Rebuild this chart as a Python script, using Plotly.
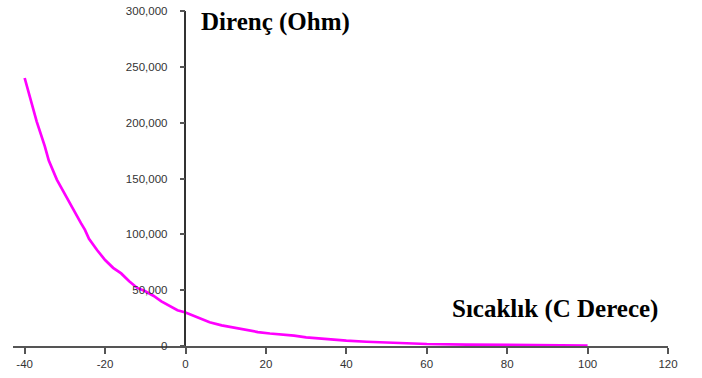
import plotly.graph_objects as go

temperature_c = [-40, -37, -35, -34, -32, -30, -28, -26, -25, -24, -22, -20, -18, -16,
                 -14, -12, -10, -8, -6, -4, -2, 0, 3, 6, 9, 12, 15, 18, 21, 24, 27,
                 30, 35, 40, 45, 50, 60, 70, 80, 90, 100]
resistance_ohm = [240000, 201000, 179000, 166000, 149000, 136000, 122000, 110000, 104000,
                  96000, 86000, 77000, 70000, 65000, 58000, 52000, 49000, 45000, 40000,
                  36000, 32000, 30000, 25700, 21300, 18500, 16500, 14500, 12500, 11200,
                  10300, 9300, 7800, 6000, 4800, 3800, 3100, 1800, 1300, 900, 600, 400]

x_ticks = [-40, -20, 0, 20, 40, 60, 80, 100, 120]
y_ticks = [0, 50000, 100000, 150000, 200000, 250000, 300000]
y_title = "Direnç (Ohm)"
x_title = "Sıcaklık (C Derece)"

x_min, x_max = -42.9, 120
y_min, y_max = 0, 300000

fig = go.Figure()
fig.add_trace(go.Scatter(
    x=temperature_c, y=resistance_ohm, mode="lines",
    line=dict(color="#FF00FF", width=2.7, shape="linear"),
    hoverinfo="x+y", showlegend=False, cliponaxis=False,
))

tick_font = dict(family="Liberation Sans, Arial, sans-serif", size=11.5, color="#333333")

fig.update_layout(
    width=702, height=378,
    margin=dict(l=13, r=34, t=11, b=32, pad=0, autoexpand=False),
    paper_bgcolor="white", plot_bgcolor="white",
    xaxis=dict(
        range=[x_min, x_max], tickvals=x_ticks, ticktext=[str(v) for v in x_ticks],
        showgrid=False, zeroline=False, showline=True, linecolor="#555555", linewidth=1.5,
        ticks="outside", ticklen=6, tickwidth=1.5, tickcolor="#555555",
        tickfont=tick_font, anchor="y", automargin=False, ticklabeloverflow="allow",
    ),
    yaxis=dict(
        range=[y_min, y_max], tickvals=y_ticks, tickformat=",",
        showgrid=False, zeroline=False, showline=True, linecolor="#333333", linewidth=1.5,
        ticks="outside", ticklen=5, tickwidth=1.5, tickcolor="#555555",
        tickfont=tick_font, anchor="free", automargin=False,
        position=(0 - x_min) / (x_max - x_min),
        ticklabelstandoff=10, ticklabeloverflow="allow",
    ),
    font=dict(family="Liberation Sans, Arial, sans-serif"),
)

title_font = dict(family="Liberation Serif, Times New Roman, serif", size=25, color="#000000")
fig.add_annotation(text="<b>" + y_title + "</b>", x=3.3, y=290500, xref="x", yref="y",
                   xanchor="left", yanchor="middle", showarrow=False, font=title_font)
fig.add_annotation(text="<b>" + x_title + "</b>", x=65.7, y=32700, xref="x", yref="y",
                   xanchor="left", yanchor="middle", showarrow=False, font=title_font)

# remove the browser's default 8px body margin so the figure fills the window exactly
fig.write_html("out.html", config={"displayModeBar": False},
               post_script="document.body.style.margin='0px';")
